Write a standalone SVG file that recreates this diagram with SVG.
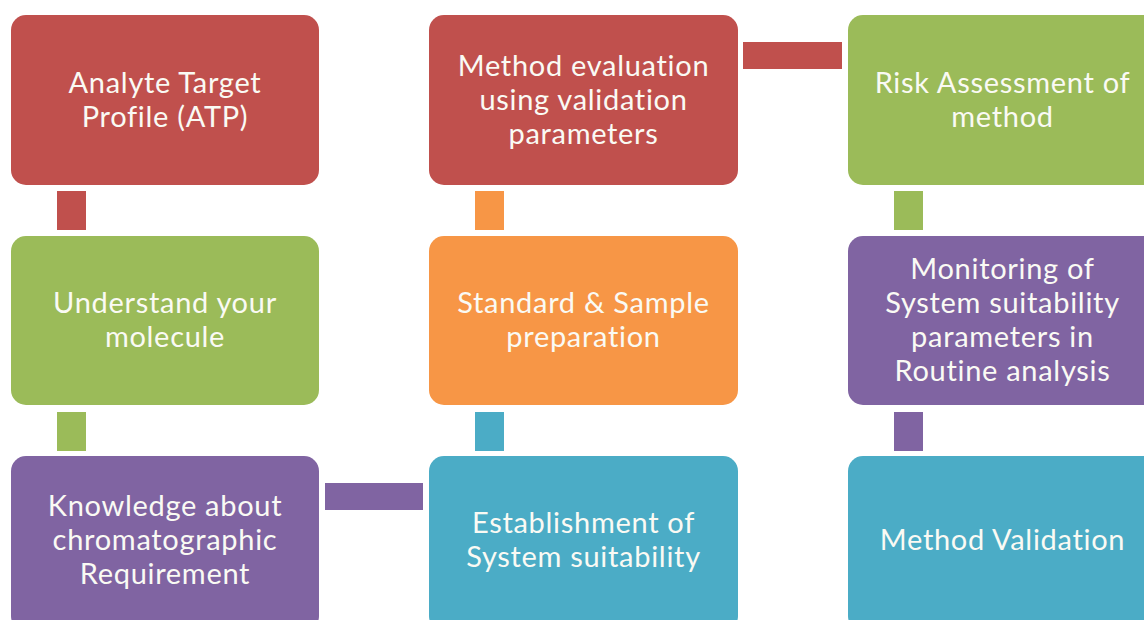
<svg xmlns="http://www.w3.org/2000/svg" width="1144" height="620" viewBox="0 0 1144 620">
  <style>
    .box { stroke: none; }
    .red { fill: #C0504D; }
    .green { fill: #9BBB59; }
    .purple { fill: #8064A2; }
    .orange { fill: #F79646; }
    .blue { fill: #4BACC6; }
    .label { font-family: Lato, "Open Sans", "Liberation Sans", sans-serif; font-size: 29px; letter-spacing: 0.7px; fill: #FAFAF4; text-anchor: middle; }
  </style>
  <rect width="1144" height="620" fill="#FFFFFF"/>

  <!-- connectors: bars coloured after the step they leave -->
  <g id="connectors">
    <rect class="red" x="57" y="191" width="29" height="39"/>
    <rect class="green" x="57" y="412" width="29" height="39"/>
    <rect class="purple" x="325" y="483" width="98" height="27"/>
    <rect class="blue" x="475" y="412" width="29" height="39"/>
    <rect class="orange" x="475" y="191" width="29" height="39"/>
    <rect class="red" x="743" y="42" width="99" height="27"/>
    <rect class="green" x="894" y="191" width="29" height="39"/>
    <rect class="purple" x="894" y="412" width="29" height="39"/>
  </g>

  <g id="atp">
    <rect class="box red" x="11" y="15" width="308" height="170" rx="15"/>
    <text class="label"><tspan x="165" y="93">Analyte Target</tspan><tspan x="165" y="127">Profile (ATP)</tspan></text>
  </g>

  <g id="understand">
    <rect class="box green" x="11" y="236" width="308" height="169" rx="15"/>
    <text class="label"><tspan x="165" y="313">Understand your</tspan><tspan x="165" y="347">molecule</tspan></text>
  </g>

  <g id="knowledge">
    <rect class="box purple" x="11" y="456" width="308" height="175" rx="15"/>
    <text class="label"><tspan x="165" y="516">Knowledge about</tspan><tspan x="165" y="550">chromatographic</tspan><tspan x="165" y="584">Requirement</tspan></text>
  </g>

  <g id="method-evaluation">
    <rect class="box red" x="429" y="15" width="309" height="170" rx="15"/>
    <text class="label"><tspan x="583.5" y="76">Method evaluation</tspan><tspan x="583.5" y="110">using validation</tspan><tspan x="583.5" y="144">parameters</tspan></text>
  </g>

  <g id="preparation">
    <rect class="box orange" x="429" y="236" width="309" height="169" rx="15"/>
    <text class="label"><tspan x="583.5" y="313">Standard &amp; Sample</tspan><tspan x="583.5" y="347">preparation</tspan></text>
  </g>

  <g id="system-suitability">
    <rect class="box blue" x="429" y="456" width="309" height="175" rx="15"/>
    <text class="label"><tspan x="583.5" y="533">Establishment of</tspan><tspan x="583.5" y="567">System suitability</tspan></text>
  </g>

  <g id="risk-assessment">
    <rect class="box green" x="848" y="15" width="309" height="170" rx="15"/>
    <text class="label"><tspan x="1002.5" y="93">Risk Assessment of</tspan><tspan x="1002.5" y="127">method</tspan></text>
  </g>

  <g id="monitoring">
    <rect class="box purple" x="848" y="236" width="309" height="169" rx="15"/>
    <text class="label"><tspan x="1002.5" y="279">Monitoring of</tspan><tspan x="1002.5" y="313">System suitability</tspan><tspan x="1002.5" y="347">parameters in</tspan><tspan x="1002.5" y="381">Routine analysis</tspan></text>
  </g>

  <g id="method-validation">
    <rect class="box blue" x="848" y="456" width="309" height="175" rx="15"/>
    <text class="label"><tspan x="1002.5" y="550">Method Validation</tspan></text>
  </g>
</svg>
